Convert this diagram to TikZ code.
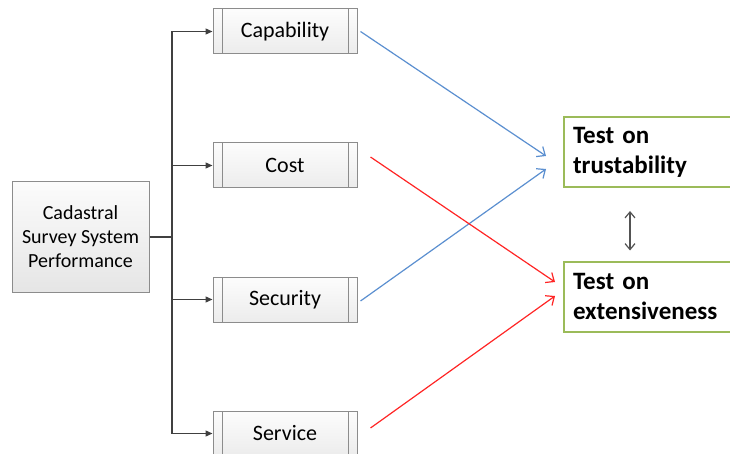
\documentclass[tikz,border=0pt]{standalone}
\usepackage{fontspec}
\setmainfont{Carlito}
\usetikzlibrary{arrows.meta}
\definecolor{boxline}{HTML}{8C8C8C}
\definecolor{linkblue}{HTML}{5B8FD0}
\definecolor{linkred}{HTML}{FF2525}
\definecolor{boxgreen}{HTML}{9BBB59}
\definecolor{trunkgray}{HTML}{404040}
\begin{document}
\begin{tikzpicture}[x=1pt,y=-1pt,
  mainbox/.style={draw=boxline, line width=1pt, top color=gray!3, bottom color=gray!20,
    minimum width=137pt, minimum height=110pt, align=center, inner sep=0pt,
    font=\fontsize{20}{24}\selectfont},
  procbox/.style={draw=boxline, line width=1pt, top color=gray!2, bottom color=gray!15,
    minimum width=144pt, minimum height=45pt, inner sep=0pt,
    font=\fontsize{22}{26}\selectfont,
    path picture={
      \draw[boxline, line width=0.8pt]
        ([xshift=9pt]path picture bounding box.north west) --
        ([xshift=9pt]path picture bounding box.south west);
      \draw[boxline, line width=0.8pt]
        ([xshift=-9pt]path picture bounding box.north east) --
        ([xshift=-9pt]path picture bounding box.south east);}},
  testbox/.style={draw=boxgreen, line width=2pt, fill=white, anchor=west,
    minimum height=70pt, text width=200pt, inner xsep=9pt, align=left,
    font=\fontsize{25}{30}\selectfont\bfseries},
  feed/.style={draw=trunkgray, line width=1.3pt, -{Triangle[length=7pt,width=6pt]}},
  bluelink/.style={draw=linkblue, line width=1.2pt, -{Straight Barb[length=7pt,width=12pt]}},
  redlink/.style={draw=linkred, line width=1.2pt, -{Straight Barb[length=7pt,width=12pt]}},
  pairlink/.style={draw=trunkgray!90, line width=1.2pt, {Straight Barb[length=6pt,width=10pt]}-{Straight Barb[length=6pt,width=10pt]}}
]
\useasboundingbox (0,0) rectangle (730,454);
\clip (0,0) rectangle (730,454);

% source box
\node[mainbox] (perf) at (80.5,237) {Cadastral\\Survey System\\Performance};

% criteria boxes
\node[procbox] (cap) at (285,31.5)  {Capability};
\node[procbox] (cost) at (285,165.5) {Cost};
\node[procbox] (sec) at (285,299.5) {Security};
\node[procbox] (serv) at (285,433.5) {Service};

% test boxes
\node[testbox] (trust) at (563,152) {Test on\\trustability};
\node[testbox] (ext) at (563,296.5) {Test on\\extensiveness};

% branching feed lines
\coordinate (trunk) at (172,237);
\draw[draw=trunkgray, line width=1.3pt] (perf.east) -- (trunk);
\draw[feed] (trunk) |- (cap.west);
\draw[feed] (trunk) |- (cost.west);
\draw[feed] (trunk) |- (sec.west);
\draw[feed] (trunk) |- (serv.west);

% links to the tests
\draw[bluelink] ([xshift=3pt]cap.east) -- ([xshift=-17pt,yshift=-4pt]trust.west);
\draw[bluelink] ([xshift=3pt,yshift=-1.5pt]sec.east) -- ([xshift=-17pt,yshift=-17pt]trust.west);
\draw[redlink] ([xshift=13pt,yshift=8.5pt]cost.east) -- ([xshift=-8pt,yshift=14.5pt]ext.west);
\draw[redlink] ([xshift=13pt,yshift=5.5pt]serv.east) -- ([xshift=-8pt,yshift=0.5pt]ext.west);

% relation between the two tests
\draw[pairlink] ([xshift=67pt,yshift=-23pt]trust.south west) -- ([xshift=67pt,yshift=10pt]ext.north west);
\end{tikzpicture}
\end{document}
